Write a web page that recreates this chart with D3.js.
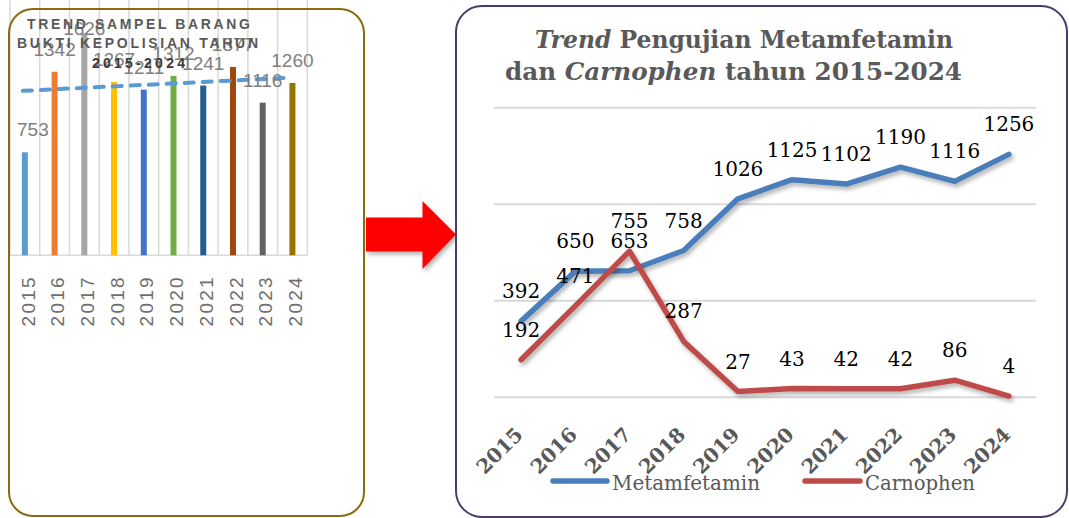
<!DOCTYPE html>
<html>
<head>
<meta charset="utf-8">
<script src="https://cdn.jsdelivr.net/npm/d3@7"></script>
<style>
  html, body { margin: 0; padding: 0; background: #fff; }
  svg { display: block; }
</style>
</head>
<body>
<div id="chart"></div>
<script>
// left panel: bar chart of evidence samples
const barYears = ["2015", "2016", "2017", "2018", "2019", "2020", "2021", "2022", "2023", "2024"];
const barValues = [753, 1342, 1626, 1267, 1211, 1312, 1241, 1377, 1116, 1260];
const barColors = ["#5b9bd5", "#ed7d31", "#a5a5a5", "#ffc000", "#4472c4", "#70ad47", "#255e91", "#9e480e", "#636363", "#997300"];
const barTitle = ["TREND SAMPEL BARANG", "BUKTI KEPOLISIAN TAHUN", "2015-2024"];

// right panel: line chart
const lineYears = ["2015", "2016", "2017", "2018", "2019", "2020", "2021", "2022", "2023", "2024"];
const metValues = [392, 650, 653, 758, 1026, 1125, 1102, 1190, 1116, 1256];
const carnValues = [192, 471, 755, 287, 27, 43, 42, 42, 86, 4];
const yTicks = [0, 500, 1000, 1500];
const seriesNames = ["Metamfetamin", "Carnophen"];

const width = 1069;
const height = 518;

const svg = d3.select("#chart").append("svg")
  .attr("width", width)
  .attr("height", height);

const defs = svg.append("defs");
defs.append("filter").attr("id", "shadow")
  .attr("x", "-20%").attr("y", "-20%").attr("width", "140%").attr("height", "140%")
  .append("feDropShadow")
  .attr("dx", 2).attr("dy", 3).attr("stdDeviation", 2)
  .attr("flood-color", "#000").attr("flood-opacity", 0.3);

// ---------- left panel ----------
const left = svg.append("g");

const xb = d3.scaleBand().domain(barYears).range([10, 307.3]);
const yb = d3.scaleLinear().domain([0, 1800]).range([255.3, 9.1]);

// vertical gridlines at category borders
left.append("g")
  .selectAll("line")
  .data(barYears.concat(["end"]))
  .join("line")
  .attr("x1", (d, i) => xb.range()[0] + i * xb.step())
  .attr("x2", (d, i) => xb.range()[0] + i * xb.step())
  .attr("y1", 0)
  .attr("y2", yb(0))
  .attr("stroke", "#d9d9d9")
  .attr("stroke-width", 1.5);

left.append("line")
  .attr("x1", xb.range()[0]).attr("x2", xb.range()[1])
  .attr("y1", yb(0)).attr("y2", yb(0))
  .attr("stroke", "#d9d9d9").attr("stroke-width", 1.5);

const barW = 6;
left.append("g")
  .selectAll("rect")
  .data(barValues)
  .join("rect")
  .attr("x", (d, i) => xb(barYears[i]) + xb.bandwidth() / 2 - barW / 2)
  .attr("y", d => yb(d))
  .attr("width", barW)
  .attr("height", d => yb(0) - yb(d))
  .attr("fill", (d, i) => barColors[i]);

// linear trendline (least squares over the bar values)
const idx = barValues.map((d, i) => i);
const mx = d3.mean(idx);
const my = d3.mean(barValues);
const slope = d3.sum(idx, i => (i - mx) * (barValues[i] - my)) / d3.sum(idx, i => (i - mx) * (i - mx));
const icpt = my - slope * mx;
const trendPts = [0, barValues.length - 1].map(i => [xb(barYears[i]) + xb.bandwidth() / 2 - 2, yb(icpt + slope * i)]);
left.append("path")
  .attr("d", d3.line()(trendPts))
  .attr("fill", "none")
  .attr("stroke", "#5b9bd5")
  .attr("stroke-width", 4)
  .attr("stroke-linecap", "round")
  .attr("stroke-dasharray", "9,9");

// value labels
left.append("g")
  .selectAll("text")
  .data(barValues)
  .join("text")
  .attr("x", (d, i) => xb(barYears[i]) + xb.bandwidth() / 2 + (i === 0 ? 8 : 0))
  .attr("y", d => Math.max(yb(d) - 16, 35))
  .attr("text-anchor", "middle")
  .attr("font-family", "Liberation Sans, Arial, sans-serif")
  .attr("font-size", 19)
  .attr("fill", "#808080")
  .text(d => d);

// x axis, vertical labels
const xAxisL = left.append("g")
  .attr("transform", `translate(0,${yb(0)})`)
  .call(d3.axisBottom(xb).tickSize(0).tickPadding(0));
xAxisL.select(".domain").remove();
xAxisL.selectAll("text")
  .attr("x", 0).attr("y", 0).attr("dy", "0.35em")
  .attr("transform", "translate(3,20) rotate(-90)")
  .attr("text-anchor", "end")
  .attr("font-family", "Liberation Sans, Arial, sans-serif")
  .attr("font-size", 19)
  .attr("letter-spacing", 2.2)
  .attr("fill", "#6e6e6e");

// title
const titleSpans = [
  { x0: 27, x1: 250, y: 29.3, c: "#595959" },
  { x0: 17, x1: 258, y: 48.3, c: "#595959" },
  { x0: 92, x1: 185, y: 68.3, c: "#3a3a3a" }
];
left.append("g")
  .selectAll("text")
  .data(barTitle)
  .join("text")
  .attr("x", (d, i) => titleSpans[i].x0)
  .attr("y", (d, i) => titleSpans[i].y)
  .attr("textLength", (d, i) => titleSpans[i].x1 - titleSpans[i].x0)
  .attr("lengthAdjust", "spacing")
  .attr("font-family", "Liberation Sans, Arial, sans-serif")
  .attr("font-weight", "bold")
  .attr("font-size", 14)
  .attr("fill", (d, i) => titleSpans[i].c)
  .text(d => d);

// left frame
svg.append("rect")
  .attr("x", 9).attr("y", 9)
  .attr("width", 355).attr("height", 507)
  .attr("rx", 24)
  .attr("fill", "none")
  .attr("stroke", "#8a6b0f")
  .attr("stroke-width", 2);

// ---------- arrow ----------
svg.append("path")
  .attr("d", "M366,217.5 L422.5,217.5 L422.5,201 L456,234.5 L422.5,269 L422.5,251.5 L366,251.5 Z")
  .attr("fill", "#ff0000")
  .attr("filter", "url(#shadow)");

// ---------- right panel ----------
svg.append("rect")
  .attr("x", 456).attr("y", 6)
  .attr("width", 611).attr("height", 511)
  .attr("rx", 26)
  .attr("fill", "#fff")
  .attr("stroke", "#4a3b68")
  .attr("stroke-width", 2);

const right = svg.append("g");
const x = d3.scaleBand().domain(lineYears).range([494, 1036]);
const y = d3.scaleLinear().domain([0, 1500]).range([396.8, 107.3]);
const cx = d => x(d) + x.bandwidth() / 2;

// gridlines
const grid = right.append("g")
  .attr("transform", `translate(${x.range()[0]},0)`)
  .call(d3.axisLeft(y).tickValues(yTicks).tickSize(-(x.range()[1] - x.range()[0])).tickFormat(""));
grid.select(".domain").remove();
grid.selectAll("line").attr("stroke", "#d9d9d9").attr("stroke-width", 2);

// title
const title = right.append("g")
  .attr("font-family", "DejaVu Serif, serif")
  .attr("font-weight", "bold")
  .attr("font-size", 25)
  .attr("fill", "#595959");
const t1 = title.append("text").attr("x", 535).attr("y", 48)
  .attr("textLength", 418).attr("lengthAdjust", "spacingAndGlyphs");
t1.append("tspan").attr("font-style", "italic").text("Trend");
t1.append("tspan").text(" Pengujian Metamfetamin");
const t2 = title.append("text").attr("x", 505).attr("y", 80)
  .attr("textLength", 457).attr("lengthAdjust", "spacingAndGlyphs");
t2.append("tspan").text("dan ");
t2.append("tspan").attr("font-style", "italic").text("Carnophen");
t2.append("tspan").text(" tahun 2015-2024");

// lines
const series = [
  { name: seriesNames[0], values: metValues, color: "#4a7ebb" },
  { name: seriesNames[1], values: carnValues, color: "#be4b48" }
];
const line = d3.line().x((d, i) => cx(lineYears[i])).y(d => y(d));

right.append("g")
  .selectAll("path")
  .data(series)
  .join("path")
  .attr("d", s => line(s.values))
  .attr("fill", "none")
  .attr("stroke", s => s.color)
  .attr("stroke-width", 5.5)
  .attr("stroke-linejoin", "round")
  .attr("stroke-linecap", "round")
  .attr("filter", "url(#shadow)");

// data labels
series.forEach(s => {
  right.append("g")
    .selectAll("text")
    .data(s.values)
    .join("text")
    .attr("x", (d, i) => cx(lineYears[i]))
    .attr("y", d => y(d) - 23)
    .attr("text-anchor", "middle")
    .attr("font-family", "DejaVu Serif, serif")
    .attr("font-size", 20)
    .attr("fill", "#000")
    .text(d => d);
});

// x axis, diagonal labels
const xAxis = right.append("g")
  .attr("transform", `translate(0,${y(0)})`)
  .call(d3.axisBottom(x).tickSize(0).tickPadding(0));
xAxis.select(".domain").remove();
xAxis.selectAll("text")
  .attr("x", 0).attr("y", 0).attr("dy", 0)
  .attr("transform", "translate(3,39) rotate(-45)")
  .attr("text-anchor", "end")
  .attr("font-family", "DejaVu Serif, serif")
  .attr("font-weight", "bold")
  .attr("font-size", 20)
  .attr("fill", "#595959");

// legend
const legendPos = [{ x: 553, w: 54, tw: 148 }, { x: 805, w: 55, tw: 110 }];
const legend = right.append("g")
  .selectAll("g")
  .data(series)
  .join("g")
  .attr("transform", (d, i) => `translate(${legendPos[i].x},481)`);
legend.append("line")
  .attr("x1", 0).attr("x2", (d, i) => legendPos[i].w)
  .attr("y1", 0).attr("y2", 0)
  .attr("stroke", d => d.color)
  .attr("stroke-width", 5.5)
  .attr("stroke-linecap", "round");
legend.append("text")
  .attr("x", (d, i) => legendPos[i].w + 5)
  .attr("y", 9)
  .attr("textLength", (d, i) => legendPos[i].tw)
  .attr("lengthAdjust", "spacingAndGlyphs")
  .attr("font-family", "DejaVu Serif, serif")
  .attr("font-size", 21)
  .attr("fill", "#595959")
  .text(d => d.name);
</script>
</body>
</html>
